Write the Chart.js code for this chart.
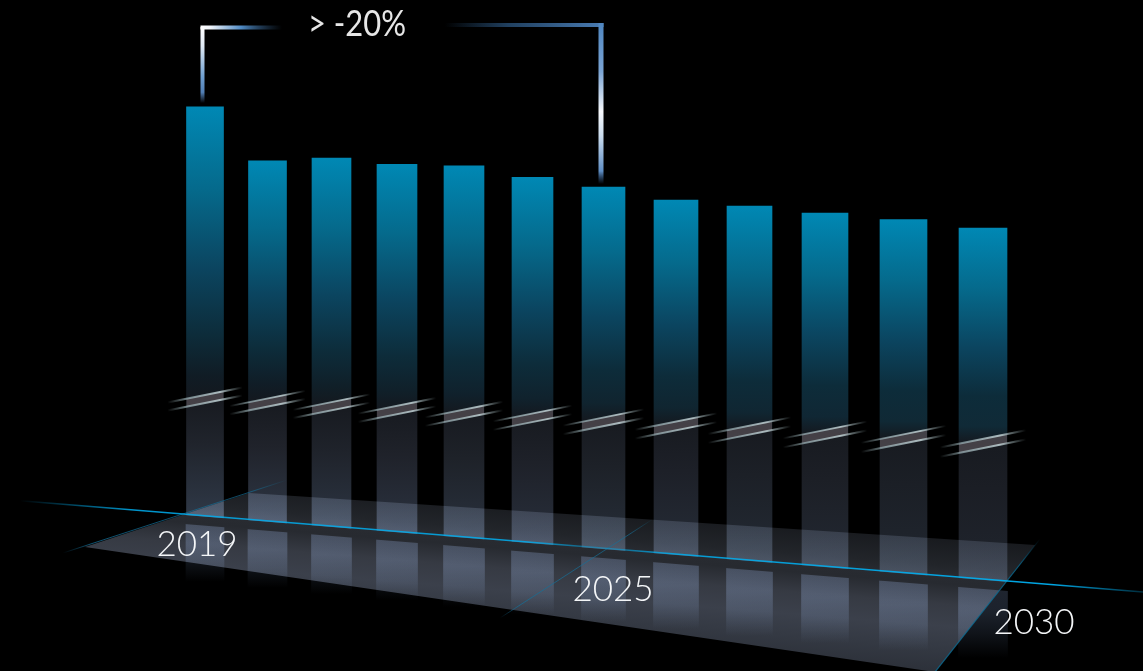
<!DOCTYPE html>
<html lang="en">
<head>
<meta charset="utf-8">
<title>Indexed values 2019-2030</title>
<style>
  html, body { margin: 0; padding: 0; background: #000; overflow: hidden; }
  canvas { display: block; }
</style>
<script src="https://cdn.jsdelivr.net/npm/chart.js@4/dist/chart.umd.js"></script>
</head>
<body>
<canvas id="chart" width="1143" height="671"></canvas>
<script>
// Yearly series, read as heights above the receding floor line.
const years = [2019, 2020, 2021, 2022, 2023, 2024, 2025, 2026, 2027, 2028, 2029, 2030];
const barValues = [409, 360, 368, 367, 371, 365, 361, 354, 354, 353, 353, 351];
// Foreshortened position and width of each year along the floor.
const yearPositions = [205, 267.5, 331.5, 397, 464, 532.5, 603.5, 676, 749.5, 825, 903.5, 983];
const yearWidths = [37, 38, 39, 40, 40, 41, 43, 44, 45, 46, 47, 48];
const reflectionDepths = [58, 59, 60, 61, 62, 64, 66, 67, 68, 69, 70, 71];
const tickLabels = [
  { text: '2019', x: 197, y: 545 },
  { text: '2025', x: 613, y: 590 },
  { text: '2030', x: 1034, y: 623 }
];
const changeLabel = '> -20%';

const W = 1143, H = 671;
const axisY = x => 514 + 0.0813 * (x - 183);
const breakY = x => 399 + 0.0572 * (x - 205);
const floorValue = x => H - axisY(x);

const mainData = years.map((_, i) => {
  const f = floorValue(yearPositions[i]);
  return { x: yearPositions[i], y: [f - 6, f + barValues[i]] };
});
const reflectionData = years.map((_, i) => {
  const f = floorValue(yearPositions[i]) - 8;
  return { x: yearPositions[i], y: [f - reflectionDepths[i], f] };
});

function mix(a, b, t) {
  const c = a.map((v, k) => Math.round(v + (b[k] - v) * t));
  return `rgb(${c[0]},${c[1]},${c[2]})`;
}

// The value scale spans the full canvas height, so gradients can be placed from values directly.
function barFill(ctx) {
  if (ctx.type !== 'data') return '#0088b8';
  const i = ctx.dataIndex;
  const top = H - mainData[i].y[1];
  const base = H - mainData[i].y[0];
  const brk = breakY(yearPositions[i]);
  const g = ctx.chart.ctx.createLinearGradient(0, top, 0, base);
  const at = v => Math.min(1, Math.max(0, (v - top) / (base - top)));
  const t = i / 11;
  g.addColorStop(0, '#0088b4');
  g.addColorStop(at(top + (brk - top) * 0.28), '#056a8c');
  g.addColorStop(at(top + (brk - top) * 0.55), '#0b4560');
  g.addColorStop(at(top + (brk - top) * 0.78), '#0d2c3a');
  g.addColorStop(at(top + (brk - top) * 0.92), mix([0x10, 0x1c, 0x25], [0x10, 0x2a, 0x37], t));
  g.addColorStop(at(brk), '#14181e');
  g.addColorStop(at(brk + 4), '#181b21');
  g.addColorStop(at(brk + 45), mix([0x20, 0x24, 0x2c], [0x1b, 0x1e, 0x25], t));
  g.addColorStop(1, mix([0x30, 0x3a, 0x49], [0x20, 0x25, 0x2e], t));
  return g;
}

function reflectionFill(ctx) {
  if (ctx.type !== 'data') return '#262d38';
  const i = ctx.dataIndex;
  const top = H - reflectionData[i].y[1];
  const base = H - reflectionData[i].y[0];
  const g = ctx.chart.ctx.createLinearGradient(0, top, 0, base);
  g.addColorStop(0, '#1f2530');
  g.addColorStop(0.35, '#1c222c');
  g.addColorStop(0.65, '#10141a');
  g.addColorStop(1, '#000000');
  return g;
}

function drawFloor(c) {
  c.save();
  c.beginPath();
  c.moveTo(85, 547);
  c.lineTo(249, 493);
  c.lineTo(1035, 545);
  c.lineTo(935, 672);
  c.closePath();
  // Shading runs across the plane, perpendicular to the floor line.
  const nx = -0.081, ny = 1, ax = 600, ay = axisY(600);
  const g = c.createLinearGradient(ax + nx * -40, ay + ny * -40, ax + nx * 110, ay + ny * 110);
  const stop = (d, col) => g.addColorStop((d + 40) / 150, col);
  stop(-40, '#17191d');
  stop(-10, '#22252a');
  stop(0, '#282b31');
  stop(8, '#272a30');
  stop(28, '#363a43');
  stop(50, '#3b404b');
  stop(72, '#343943');
  stop(110, '#282c34');
  c.fillStyle = g;
  c.fill();
  c.restore();
}

function fadedLine(c, x0, y0, x1, y1, stops, width) {
  const g = c.createLinearGradient(x0, y0, x1, y1);
  stops.forEach(([o, col]) => g.addColorStop(o, col));
  c.strokeStyle = g;
  c.lineWidth = width;
  c.beginPath();
  c.moveTo(x0, y0);
  c.lineTo(x1, y1);
  c.stroke();
}

function drawFloorLines(c) {
  c.save();
  const edge = [[0, 'rgba(20,110,150,0)'], [0.12, 'rgba(20,110,150,0.75)'], [0.85, 'rgba(20,110,150,0.65)'], [1, 'rgba(20,110,150,0)']];
  fadedLine(c, 63, 553, 287, 480, edge, 1);
  fadedLine(c, 500, 618, 653, 519, edge, 1);
  fadedLine(c, 1040, 539, 935, 672, [[0, 'rgba(10,110,150,0)'], [0.2, 'rgba(10,110,150,0.8)'], [1, 'rgba(10,110,150,0.8)']], 1.2);
  fadedLine(c, 20, axisY(20), 1143, axisY(1143), [
    [0, 'rgba(0,174,239,0)'],
    [0.1, 'rgba(0,174,239,0.85)'],
    [0.45, 'rgba(0,174,239,0.85)'],
    [0.5, 'rgba(0,174,239,0.45)'],
    [0.53, 'rgba(0,174,239,0.45)'],
    [0.58, 'rgba(0,174,239,0.85)'],
    [0.92, 'rgba(0,174,239,0.95)'],
    [1, 'rgba(0,174,239,0.25)']
  ], 1.6);
  c.restore();
}

function drawBreaks(c, meta) {
  c.save();
  meta.data.forEach((el, i) => {
    const cx = el.x, half = yearWidths[i] / 2, cy = breakY(cx);
    const gap = 4 + 0.6 * i / 11;
    const slope = -0.2, reach = half + 19;
    c.fillStyle = 'rgba(76,72,78,0.85)';
    c.beginPath();
    c.moveTo(cx - half, cy - gap - slope * half);
    c.lineTo(cx + half, cy - gap + slope * half);
    c.lineTo(cx + half, cy + gap + slope * half);
    c.lineTo(cx - half, cy + gap - slope * half);
    c.closePath();
    c.fill();
    [-gap, gap].forEach(off => {
      fadedLine(c, cx - reach, cy + off - slope * reach, cx + reach, cy + off + slope * reach, [
        [0, 'rgba(165,190,195,0)'],
        [0.25, 'rgba(165,190,195,0.65)'],
        [0.7, 'rgba(195,212,215,0.85)'],
        [1, 'rgba(165,190,195,0)']
      ], 1.9);
    });
  });
  c.restore();
}

function drawBracket(c) {
  c.save();
  c.lineCap = 'butt';
  fadedLine(c, 202.5, 103, 202.5, 27, [
    [0, 'rgba(90,140,200,0)'], [0.14, 'rgba(90,140,200,0.9)'], [0.35, '#6f9fd0'], [0.75, '#dfe9f4'], [1, '#ffffff']
  ], 4);
  fadedLine(c, 200.5, 27.5, 282, 27.5, [
    [0, '#ffffff'], [0.12, '#f0f4fa'], [0.5, '#4f8ac4'], [0.75, 'rgba(50,90,130,0.6)'], [1, 'rgba(40,70,100,0)']
  ], 4);
  fadedLine(c, 445, 25, 603.5, 25, [
    [0, 'rgba(40,80,120,0)'], [0.4, 'rgba(40,80,120,0.8)'], [1, '#4a7db5']
  ], 4);
  fadedLine(c, 601, 23, 601, 184, [
    [0, '#4f86c0'], [0.3, '#7aa4d4'], [0.55, '#f6f8fb'], [0.7, '#cbdcee'], [0.92, '#5f8ec4'], [1, 'rgba(60,110,170,0)']
  ], 5);
  c.restore();
}

function drawTexts(c) {
  c.save();
  c.textAlign = 'center';
  c.textBaseline = 'middle';
  c.fillStyle = '#f4f6f8';
  c.font = '300 35px Lato, "Open Sans", sans-serif';
  tickLabels.forEach(t => c.fillText(t.text, t.x, t.y));
  c.font = '400 36px Lato, "Open Sans", sans-serif';
  c.fillStyle = '#e6e6e6';
  c.fillText(changeLabel, 357, 24, 98);
  c.restore();
}

const perspectivePlugin = {
  id: 'perspective',
  afterDatasetsUpdate(chart) {
    // Bars widen toward the viewer, so each gets its own width.
    chart.data.datasets.forEach((_, d) => {
      chart.getDatasetMeta(d).data.forEach((el, i) => {
        el.width = yearWidths[i] + (d === 0 ? 1 : 0);
      });
    });
  },
  beforeDatasetsDraw(chart) {
    drawFloor(chart.ctx);
  },
  beforeDatasetDraw(chart, args) {
    const c = chart.ctx;
    c.save();
    c.globalCompositeOperation = 'lighter';
    c.beginPath();
    if (args.index === 1) {
      // Main bars stop on the floor line.
      c.moveTo(0, 0); c.lineTo(W, 0);
      c.lineTo(W, axisY(W) + 1); c.lineTo(0, axisY(0) + 1);
    } else {
      // The mirror image starts a little below it.
      c.moveTo(0, axisY(0) + 10); c.lineTo(W, axisY(W) + 10);
      c.lineTo(W, H); c.lineTo(0, H);
    }
    c.closePath();
    c.clip();
  },
  afterDatasetDraw(chart) {
    chart.ctx.restore();
  },
  afterDatasetsDraw(chart) {
    const c = chart.ctx;
    drawFloorLines(c);
    drawBreaks(c, chart.getDatasetMeta(1));
    drawBracket(c);
    drawTexts(c);
  }
};

new Chart(document.getElementById('chart'), {
  type: 'bar',
  data: {
    datasets: [
      { label: 'Mirror', data: reflectionData, backgroundColor: reflectionFill, borderWidth: 0, grouped: false, barThickness: 40 },
      { label: 'Value', data: mainData, backgroundColor: barFill, borderWidth: 0, grouped: false, barThickness: 40 }
    ]
  },
  options: {
    responsive: false,
    animation: false,
    layout: { padding: 0 },
    plugins: { legend: { display: false }, tooltip: { enabled: false } },
    scales: {
      x: { type: 'linear', min: 0, max: W, offset: false, display: false },
      y: { type: 'linear', min: 0, max: H, display: false }
    }
  },
  plugins: [perspectivePlugin]
});
</script>
</body>
</html>
